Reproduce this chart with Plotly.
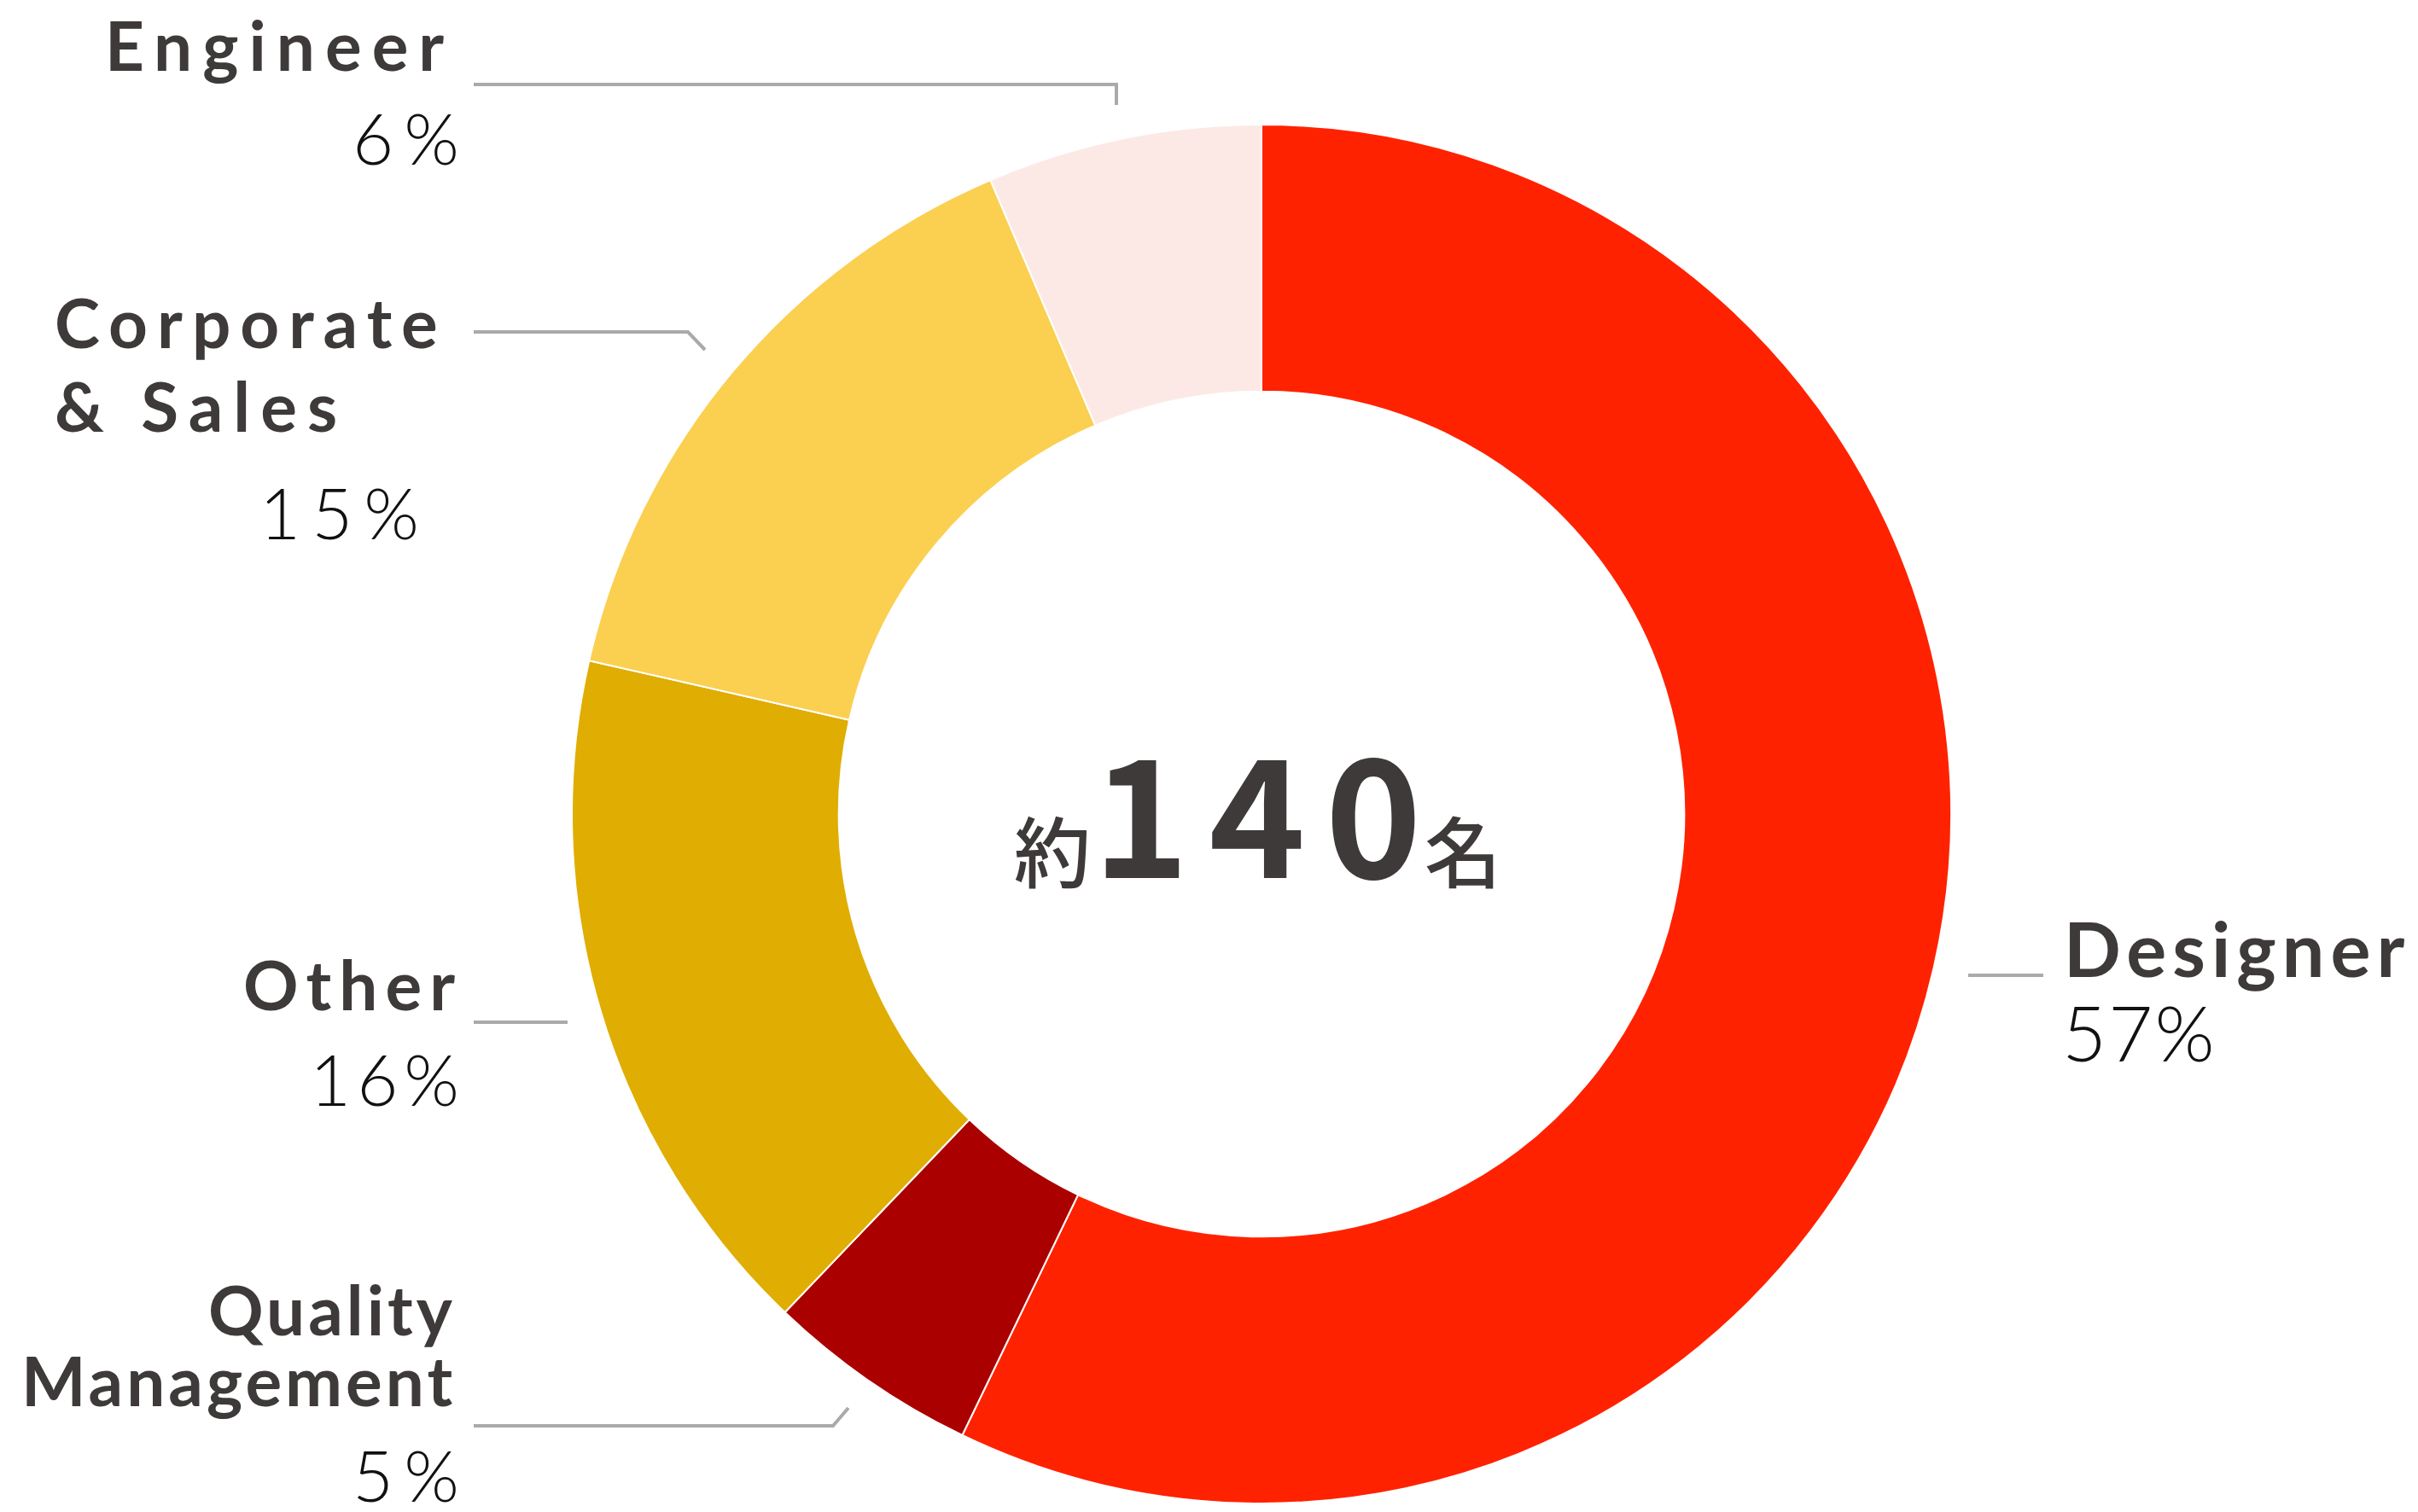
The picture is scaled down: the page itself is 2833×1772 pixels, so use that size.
import plotly.graph_objects as go

W, H = 2833, 1772

categories = ["Designer", "Quality Management", "Other", "Corporate & Sales", "Engineer"]
headcount = [80, 7, 23, 21, 9]          # approx. people (total ≈ 140)
pct_labels = ["57%", "5%", "16%", "15%", "6%"]
colors = ["#FF2200", "#AA0000", "#E0AD02", "#FBCF50", "#FCE9E6"]
center_prefix = "約"
center_number = "140"
center_suffix = "名"

TEXT = "#3d3a39"
LINE = "#aaaaaa"
LABEL_FONT = "Lato"
PCT_FONT = "Lato"
CJK_FONT = "Noto Sans CJK JP"


def px(x):
    return x / W


def py(y):
    return 1 - y / H


cx, cy, R = 1478, 954, 808

fig = go.Figure(go.Pie(
    labels=categories,
    values=headcount,
    marker=dict(colors=colors, line=dict(color="white", width=2)),
    hole=0.613,
    sort=False,
    direction="clockwise",
    rotation=0,
    textinfo="none",
    hoverinfo="label+percent",
    showlegend=False,
    domain=dict(x=[px(cx - R), px(cx + R)], y=[py(cy + R), py(cy - R)]),
))

annotations = []


def add_text(text, x, anchor, baseline, size, kind, spacing):
    if kind == "label":
        fam, weight, col = LABEL_FONT, 700, TEXT
    else:
        fam, weight, col = PCT_FONT, 300, "#111111"
    annotations.append(dict(
        x=px(x), y=py(baseline - 0.39 * size), xref="paper", yref="paper",
        xanchor=anchor, yanchor="middle", showarrow=False,
        text=f"<span style='letter-spacing:{spacing}px'>{text}</span>",
        font=dict(family=fam, size=size, color=col, weight=weight),
    ))


# label blocks (category text lines + percentage)
add_text(categories[0], 2416, "left", 1145, 88, "label", 7)
add_text(pct_labels[0], 2414, "left", 1244, 90, "pct", 2)

add_text(categories[4], 534, "right", 83, 80, "label", 12)
add_text(pct_labels[4], 552, "right", 193, 83, "pct", 12)

add_text("Corporate", 62, "left", 408, 80, "label", 11)
add_text("& Sales", 62, "left", 506, 80, "label", 12)
add_text(pct_labels[3], 506, "right", 632, 83, "pct", 13)

add_text(categories[2], 544, "right", 1184, 80, "label", 9)
add_text(pct_labels[2], 547, "right", 1296, 83, "pct", 7)

add_text("Quality", 536, "right", 1565, 80, "label", 4)
add_text("Management", 536, "right", 1648, 80, "label", 4)
add_text(pct_labels[1], 552, "right", 1760, 83, "pct", 12)

# center text
annotations.append(dict(
    x=px(1233), y=py(994), xref="paper", yref="paper", xanchor="center", yanchor="middle",
    showarrow=False, text=center_prefix,
    font=dict(family=CJK_FONT, size=90, color=TEXT, weight=500)))
annotations.append(dict(
    x=px(1472 + 12), y=py(945), xref="paper", yref="paper", xanchor="center", yanchor="middle",
    showarrow=False, text=f"<span style='letter-spacing:23px'>{center_number}</span>",
    font=dict(family=CJK_FONT, size=192, color=TEXT, weight=700)))
annotations.append(dict(
    x=px(1714), y=py(994), xref="paper", yref="paper", xanchor="center", yanchor="middle",
    showarrow=False, text=center_suffix,
    font=dict(family=CJK_FONT, size=90, color=TEXT, weight=500)))

# leader lines
leaders = [
    [(555, 99), (1308, 99), (1308, 123)],
    [(555, 389), (806, 389), (826, 410)],
    [(555, 1198), (665, 1198)],
    [(555, 1671), (976, 1671), (994, 1650)],
    [(2306, 1143), (2394, 1143)],
]
shapes = []
for pts in leaders:
    path = "M " + " L ".join(f"{px(x)},{py(y)}" for x, y in pts)
    shapes.append(dict(type="path", xref="paper", yref="paper", path=path,
                       line=dict(color=LINE, width=4)))

fig.update_layout(
    width=W, height=H,
    margin=dict(l=0, r=0, t=0, b=0),
    paper_bgcolor="white", plot_bgcolor="white",
    annotations=annotations,
    shapes=shapes,
)

fig.write_html("out.html", config={"displayModeBar": False})
